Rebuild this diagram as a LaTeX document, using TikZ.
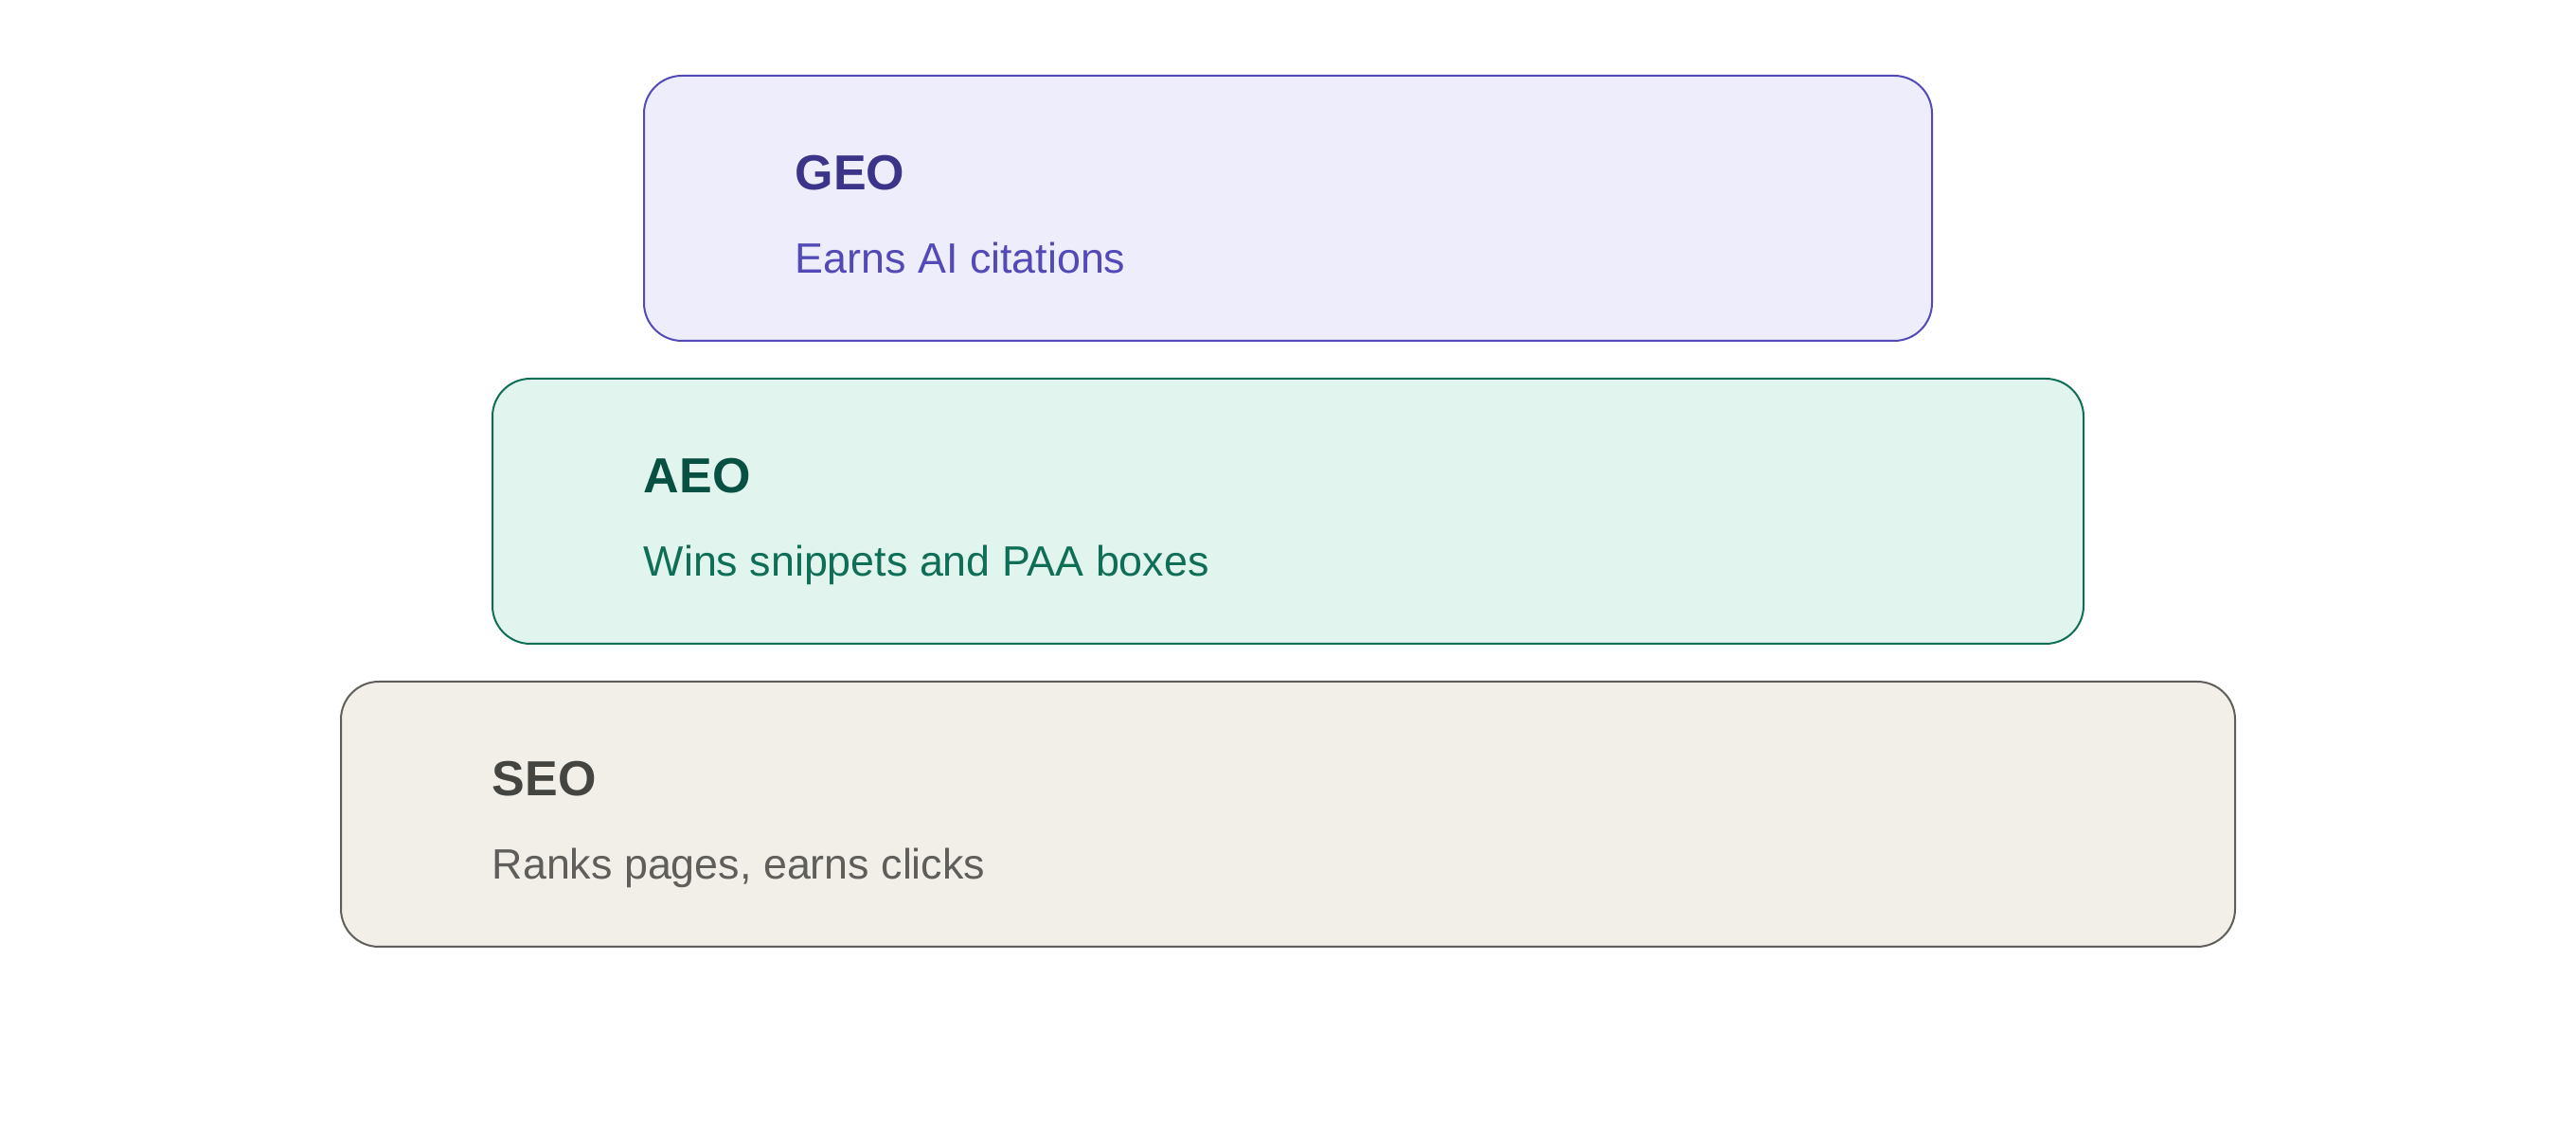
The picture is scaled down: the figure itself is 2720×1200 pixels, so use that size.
\documentclass[tikz,border=0pt]{standalone}
\usepackage{fontspec}
\setmainfont{Liberation Sans}
\definecolor{geofill}{HTML}{EEEDFC}
\definecolor{geoline}{HTML}{534AB7}
\definecolor{geotitle}{HTML}{3C3489}
\definecolor{aeofill}{HTML}{E1F5EE}
\definecolor{aeoline}{HTML}{0F6E56}
\definecolor{aeotitle}{HTML}{085041}
\definecolor{seofill}{HTML}{F1EFE8}
\definecolor{seoline}{HTML}{5F5E5A}
\definecolor{seotitle}{HTML}{444441}

\begin{document}
\begin{tikzpicture}[x=0.25pt,y=0.25pt,
				layer/.style={rectangle,rounded corners=10pt,line width=0.5pt,minimum height=70pt,inner sep=0pt},
				layertitle/.style={anchor=base west,inner sep=0pt,font=\fontsize{13}{16}\selectfont\bfseries},
				layersub/.style={anchor=base west,inner sep=0pt,font=\fontsize{11.2}{14}\selectfont}]
				\useasboundingbox (0,0) rectangle (2720,1200);
				\foreach \N/\T/\S/\W/\Y in {geo/GEO/Earns AI citations/340/980,
					aeo/AEO/Wins snippets and PAA boxes/420/660,
					seo/SEO/{Ranks pages, earns clicks}/500/340}
				{\node[layer,draw=\N line,fill=\N fill,minimum width=\W pt] (\N) at (1360,\Y) {};
					\node[layertitle,text=\N title] (\N-t) at ([xshift=40pt,yshift=-30.5pt]\N.north west) {\T};
					\node[layersub,text=\N line] (\N-s) at ([xshift=40pt,yshift=-52.5pt]\N.north west) {\S};}
		\end{tikzpicture}
\end{document}
